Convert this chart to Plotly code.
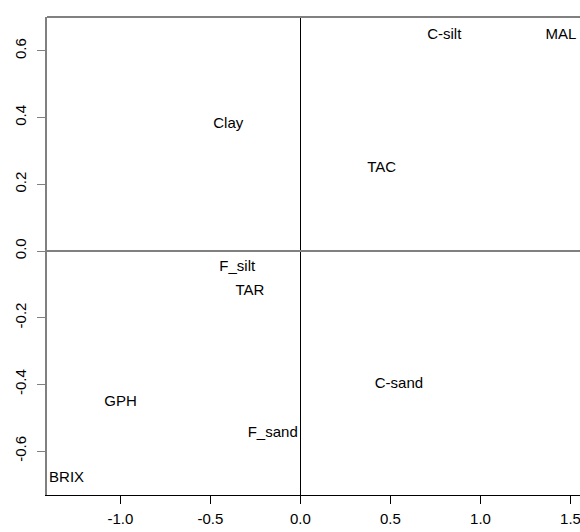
import plotly.graph_objects as go

labels = ["C-silt", "MAL", "Clay", "TAC", "F_silt", "TAR", "GPH", "F_sand", "BRIX", "C-sand"]
x_vals = [0.799, 1.447, -0.401, 0.451, -0.351, -0.281, -0.999, -0.154, -1.299, 0.547]
y_vals = [0.648, 0.648, 0.381, 0.248, -0.048, -0.122, -0.452, -0.547, -0.682, -0.400]

x_ticks = [-1.0, -0.5, 0.0, 0.5, 1.0, 1.5]
x_ticktext = ["-1.0", "-0.5", "0.0", "0.5", "1.0", "1.5"]
y_ticks = [-0.6, -0.4, -0.2, 0.0, 0.2, 0.4, 0.6]
y_ticktext = ["-0.6", "-0.4", "-0.2", "0.0", "0.2", "0.4", "0.6"]

FONT = "Liberation Sans, Arial, sans-serif"

fig = go.Figure()
fig.add_trace(go.Scatter(
    x=x_vals, y=y_vals, text=labels, mode="text",
    textposition="middle center",
    textfont=dict(family=FONT, size=15, color="black"),
    hoverinfo="skip", showlegend=False, cliponaxis=False,
))

fig.update_layout(
    width=580, height=532,
    margin=dict(l=47, r=0, t=17, b=37, autoexpand=False),
    plot_bgcolor="white", paper_bgcolor="white",
    font=dict(family=FONT, size=15, color="black"),
    xaxis=dict(
        range=[-1.408, 1.553], tickmode="array", tickvals=x_ticks, ticktext=x_ticktext,
        showgrid=False, zeroline=True, zerolinecolor="black", zerolinewidth=1,
        showline=True, linecolor="black", linewidth=1, automargin=False,
        ticks="outside", ticklen=8, tickcolor="black", tickwidth=1,
        ticklabelstandoff=2, ticklabeloverflow="allow",
        tickfont=dict(family=FONT, size=15, color="black"),
    ),
    yaxis=dict(
        range=[-0.7316, 0.7016], tickmode="array", tickvals=y_ticks, ticktext=y_ticktext,
        showgrid=False, zeroline=True, zerolinecolor="#808080", zerolinewidth=2,
        showline=True, linecolor="#808080", linewidth=2, automargin=False,
        ticks="outside", ticklen=8, tickcolor="#808080", tickwidth=1,
        tickangle=-90, ticklabelstandoff=5, ticklabeloverflow="allow",
        tickfont=dict(family=FONT, size=15, color="black"),
    ),
    shapes=[dict(type="line", xref="paper", yref="paper", x0=0, x1=1, y0=1, y1=1,
                 line=dict(color="#808080", width=2))],
)

# remove the default page margin so the 580x532 figure fills the window exactly
fig.write_html(
    "out.html",
    config={"displayModeBar": False},
    post_script="document.body.style.margin='0';document.body.style.overflow='hidden';",
)
